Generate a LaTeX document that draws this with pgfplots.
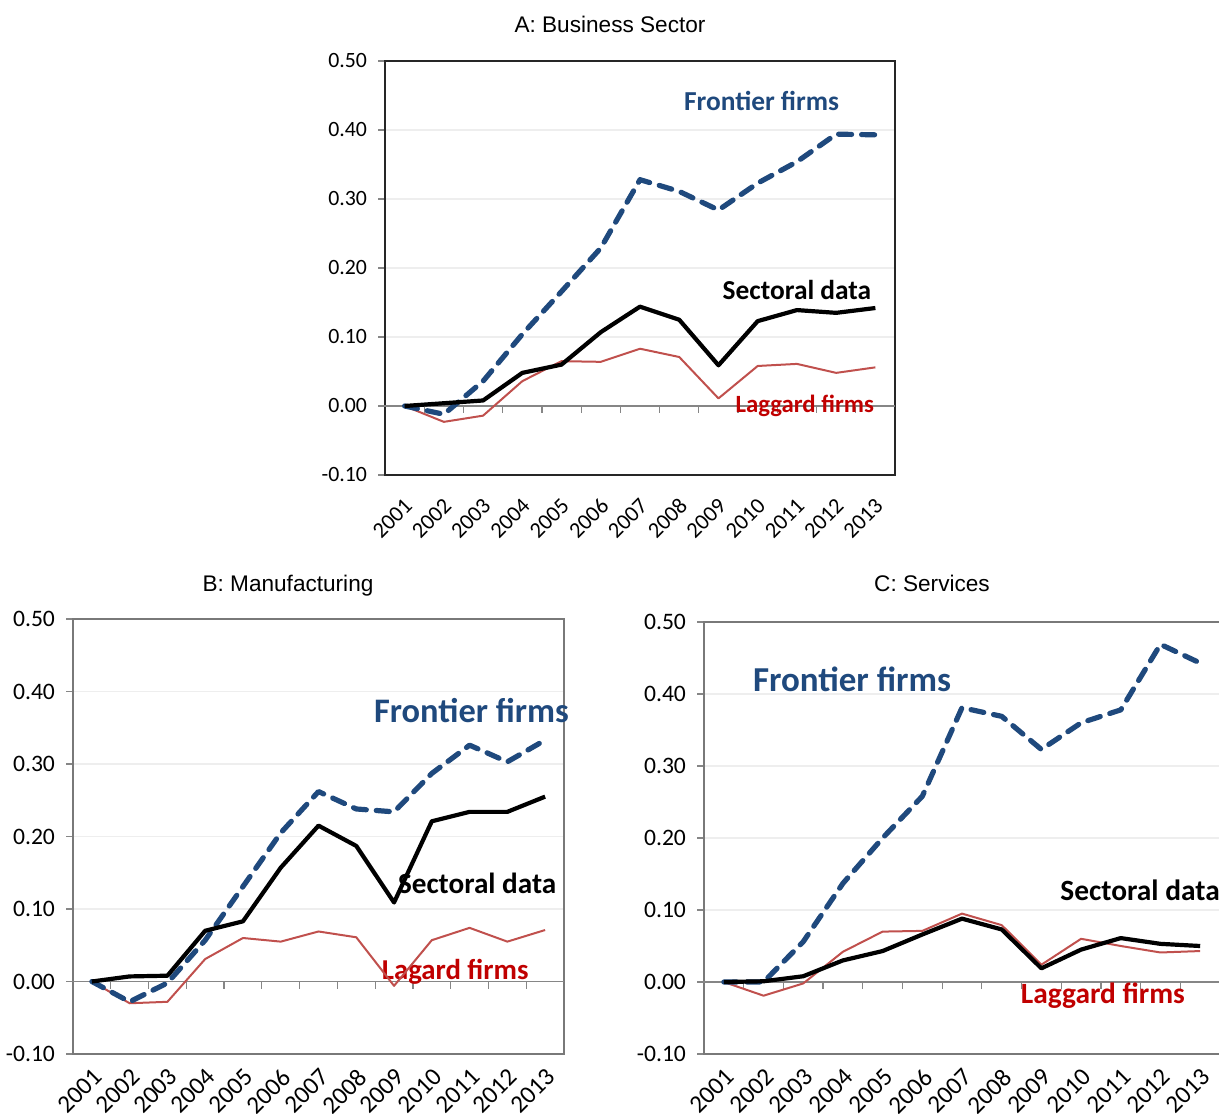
\documentclass[border=0pt]{standalone}
\usepackage{fontspec}
\setmainfont{Carlito}
\newfontfamily\arialfont{Liberation Sans}
\usepackage{pgfplots}
\pgfplotsset{compat=1.18}

\definecolor{frontblue}{HTML}{1F497D}
\definecolor{lagred}{HTML}{C0504D}
\definecolor{lagtext}{HTML}{C00000}
\definecolor{axgray}{HTML}{868686}
\definecolor{gridc}{HTML}{EEEEEE}

\pgfplotsset{
  panel/.style={
    scale only axis, anchor=south west,
    xmin=2000.5, xmax=2013.5, ymin=-0.1, ymax=0.5,
    xtick={2001,...,2013},
    ytick={-0.1,0.1,0.2,0.3,0.4,0.5},
    extra y ticks={0},
    extra y tick style={grid=major, major grid style={axgray, line width=0.75pt}},
    ytick pos=left, xtick pos=bottom,
    yticklabel style={xshift=-2pt, /pgf/number format/fixed, /pgf/number format/fixed zerofill, /pgf/number format/precision=2, /pgf/number format/assume math mode=true},
    xticklabel style={rotate=45, anchor=north east, inner sep=1pt, /pgf/number format/1000 sep={}, /pgf/number format/assume math mode=true},
    xticklabel shift=5pt,
    ymajorgrids, grid style={gridc, line width=0.6pt},
    x tick style={draw=none},
    y tick style={axgray, line width=0.6pt},
    tick align=outside, major tick length=3.5pt,
    axis line style={line width=0.75pt},
    clip=false,
  },
  zpanel/.style={
    scale only axis, anchor=south west,
    xmin=2000.5, xmax=2013.5, ymin=-0.1, ymax=0.5,
    axis x line=middle, axis y line=none,
    xtick={2001.5,2002.5,...,2012.5}, xticklabels={},
    x axis line style={-, axgray, line width=0.75pt},
    x tick style={axgray, line width=0.6pt},
    xtick align=outside, major tick length=3.5pt,
  },
  front/.style={frontblue, line width=2.6pt, dash pattern=on 6.5pt off 5pt, line cap=round, line join=round},
  sect/.style={black, line width=2.1pt, line join=round},
  lag/.style={lagred, line width=1pt, line join=round},
}

\begin{document}
\begin{tikzpicture}
\useasboundingbox (0,0) rectangle (609.5pt,556.5pt);

% ---------------- Panel A ----------------
\node[anchor=base, font=\arialfont\fontsize{11.3}{13}\selectfont] at (305pt,540pt) {A: Business Sector};
\begin{axis}[zpanel, at={(192.5pt,319pt)}, width=255pt, height=207pt]
\end{axis}
\begin{axis}[panel, at={(192.5pt,319pt)}, width=255pt, height=207pt,
  axis line style={black!85},
  yticklabel style={font=\fontsize{10.9}{12}\selectfont},
  xticklabel style={font=\fontsize{11.2}{12}\selectfont, xshift=-1pt}]
\addplot[lag] coordinates {(2001,0)(2002,-0.023)(2003,-0.014)(2004,0.036)(2005,0.065)(2006,0.064)(2007,0.083)(2008,0.071)(2009,0.011)(2010,0.058)(2011,0.061)(2012,0.048)(2013,0.056)};
\addplot[front] coordinates {(2001,0)(2002,-0.012)(2003,0.036)(2004,0.104)(2005,0.166)(2006,0.229)(2007,0.328)(2008,0.311)(2009,0.284)(2010,0.323)(2011,0.354)(2012,0.394)(2013,0.393)};
\addplot[sect] coordinates {(2001,0)(2002,0.004)(2003,0.008)(2004,0.048)(2005,0.060)(2006,0.107)(2007,0.144)(2008,0.125)(2009,0.059)(2010,0.123)(2011,0.139)(2012,0.135)(2013,0.142)};
\node[font=\fontsize{13.7}{15}\selectfont\bfseries, text=frontblue] at (axis cs:2010.1,0.442) {Frontier firms};
\node[font=\fontsize{13.7}{15}\selectfont\bfseries, text=black] at (axis cs:2011.0,0.168) {Sectoral data};
\node[font=\fontsize{12.4}{14}\selectfont\bfseries, text=lagtext] at (axis cs:2011.2,0.0) {Laggard firms};
\end{axis}

% ---------------- Panel B ----------------
\node[anchor=base, font=\arialfont\fontsize{11.3}{13}\selectfont] at (144pt,260.5pt) {B: Manufacturing};
\begin{axis}[zpanel, at={(36.5pt,29.5pt)}, width=245.5pt, height=217.5pt]
\end{axis}
\begin{axis}[panel, at={(36.5pt,29.5pt)}, width=245.5pt, height=217.5pt,
  axis line style={axgray!90!black},
  xticklabel shift=1.5pt,
  yticklabel style={font=\fontsize{11.8}{13}\selectfont},
  xticklabel style={font=\fontsize{12.5}{13}\selectfont}]
\node[font=\fontsize{14.6}{17}\selectfont\bfseries, text=black] at (axis cs:2011.2,0.136) {Sectoral data};
\node[font=\fontsize{14.4}{17}\selectfont\bfseries, text=lagtext] at (axis cs:2010.62,0.013) {Lagard firms};
\addplot[lag] coordinates {(2001,0)(2002,-0.030)(2003,-0.028)(2004,0.031)(2005,0.060)(2006,0.055)(2007,0.069)(2008,0.061)(2009,-0.006)(2010,0.057)(2011,0.074)(2012,0.055)(2013,0.071)};
\addplot[front] coordinates {(2001,0)(2002,-0.028)(2003,-0.002)(2004,0.057)(2005,0.131)(2006,0.205)(2007,0.262)(2008,0.238)(2009,0.234)(2010,0.287)(2011,0.326)(2012,0.303)(2013,0.333)};
\addplot[sect] coordinates {(2001,0)(2002,0.007)(2003,0.008)(2004,0.070)(2005,0.083)(2006,0.157)(2007,0.215)(2008,0.187)(2009,0.109)(2010,0.221)(2011,0.234)(2012,0.234)(2013,0.255)};
\node[font=\fontsize{17.2}{19}\selectfont\bfseries, text=frontblue] at (axis cs:2011.05,0.374) {Frontier firms};
\end{axis}

% ---------------- Panel C ----------------
\node[anchor=base, font=\arialfont\fontsize{11.3}{13}\selectfont] at (466pt,260.5pt) {C: Services};
\begin{axis}[zpanel, at={(352pt,29.5pt)}, width=258pt, height=216pt]
\end{axis}
\begin{axis}[panel, at={(352pt,29.5pt)}, width=258pt, height=216pt,
  axis line style={axgray!90!black},
  xticklabel shift=1.5pt,
  yticklabel style={font=\fontsize{11.8}{13}\selectfont},
  xticklabel style={font=\fontsize{12.5}{13}\selectfont}]
\addplot[lag] coordinates {(2001,0)(2002,-0.019)(2003,-0.002)(2004,0.042)(2005,0.070)(2006,0.071)(2007,0.095)(2008,0.079)(2009,0.024)(2010,0.060)(2011,0.050)(2012,0.041)(2013,0.043)};
\addplot[front] coordinates {(2001,0)(2002,0.0)(2003,0.056)(2004,0.137)(2005,0.200)(2006,0.258)(2007,0.381)(2008,0.369)(2009,0.323)(2010,0.360)(2011,0.378)(2012,0.469)(2013,0.443)};
\addplot[sect] coordinates {(2001,0)(2002,0.001)(2003,0.008)(2004,0.030)(2005,0.043)(2006,0.066)(2007,0.088)(2008,0.073)(2009,0.019)(2010,0.045)(2011,0.061)(2012,0.053)(2013,0.050)};
\node[font=\fontsize{17.5}{19}\selectfont\bfseries, text=frontblue] at (axis cs:2004.23,0.421) {Frontier firms};
\node[font=\fontsize{14.7}{17}\selectfont\bfseries, text=black, anchor=west] at (axis cs:2009.3,0.128) {Sectoral data};
\node[font=\fontsize{14.7}{17}\selectfont\bfseries, text=lagtext] at (axis cs:2010.55,-0.019) {Laggard firms};
\end{axis}
\end{tikzpicture}
\end{document}
